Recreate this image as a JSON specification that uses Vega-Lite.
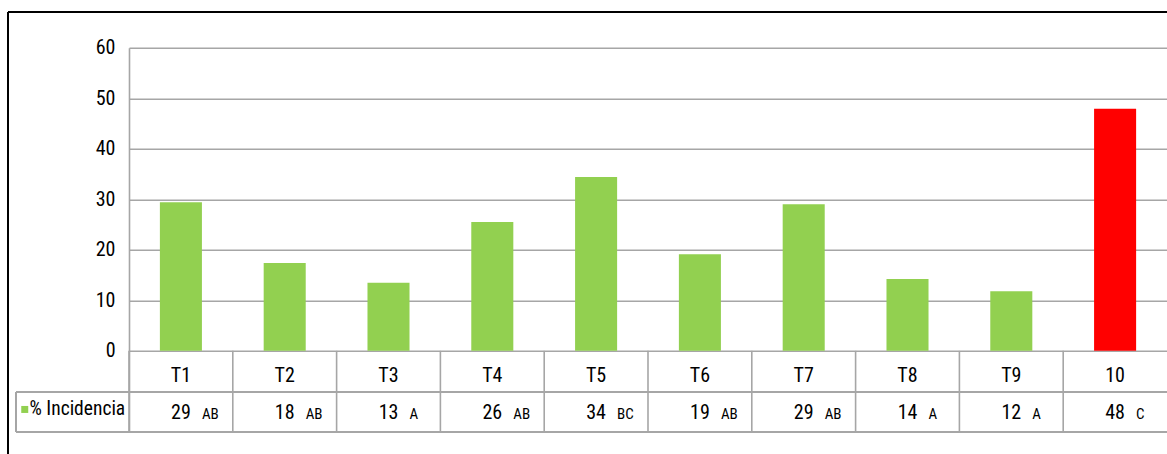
{
  "$schema": "https://vega.github.io/schema/vega-lite/v6.json",
  "width": 1038,
  "height": 384,
  "autosize": "none",
  "padding": {"left": 129, "top": 47.7, "right": 0, "bottom": 22.3},
  "background": "white",
  "config": {
    "view": {"stroke": null},
    "font": "'Roboto Condensed', 'Liberation Sans Narrow', 'DejaVu Sans Condensed', sans-serif"
  },
  "data": {
    "values": [
      {"cat": "T1", "value": 29.4, "label": "29", "letter": "AB", "serie": "% Incidencia"},
      {"cat": "T2", "value": 17.4, "label": "18", "letter": "AB", "serie": "% Incidencia"},
      {"cat": "T3", "value": 13.5, "label": "13", "letter": "A", "serie": "% Incidencia"},
      {"cat": "T4", "value": 25.5, "label": "26", "letter": "AB", "serie": "% Incidencia"},
      {"cat": "T5", "value": 34.4, "label": "34", "letter": "BC", "serie": "% Incidencia"},
      {"cat": "T6", "value": 19.1, "label": "19", "letter": "AB", "serie": "% Incidencia"},
      {"cat": "T7", "value": 29.0, "label": "29", "letter": "AB", "serie": "% Incidencia"},
      {"cat": "T8", "value": 14.2, "label": "14", "letter": "A", "serie": "% Incidencia"},
      {"cat": "T9", "value": 11.8, "label": "12", "letter": "A", "serie": "% Incidencia"},
      {"cat": "10", "value": 47.9, "label": "48", "letter": "C", "serie": "% Incidencia"}
    ]
  },
  "encoding": {
    "x": {"field": "cat", "type": "nominal", "sort": null, "scale": {"paddingInner": 0, "paddingOuter": 0}, "axis": null}
  },
  "layer": [
    {
      "mark": {"type": "bar", "width": {"band": 0.405}},
      "encoding": {
        "y": {
          "field": "value", "type": "quantitative",
          "scale": {"domain": [-16, 60], "nice": false, "zero": false},
          "axis": {
            "values": [0, 10, 20, 30, 40, 50, 60],
            "grid": true, "gridColor": "#a6a6a6", "gridWidth": 1.6,
            "domain": true, "domainColor": "#a6a6a6", "domainWidth": 1.6,
            "ticks": false, "labelPadding": 14, "labelFontSize": 20,
            "labelColor": "#000000", "title": null
          }
        },
        "y2": {"datum": 0},
        "color": {
          "field": "serie", "type": "nominal",
          "scale": {"domain": ["% Incidencia"], "range": ["#92D050"]},
          "condition": {"test": "datum.cat === '10'", "value": "#FF0000"},
          "legend": {
            "title": null, "orient": "none", "legendX": -114, "legendY": 352,
            "symbolType": "square", "symbolSize": 49, "symbolStrokeWidth": 0,
            "labelFontSize": 19.5, "labelColor": "#000000", "labelOffset": -5,
            "padding": 0, "labelLimit": 0
          }
        }
      }
    },
    {
      "mark": {"type": "rule", "color": "#a6a6a6", "strokeWidth": 1.6},
      "encoding": {
        "x": {"field": "cat", "type": "nominal", "sort": null, "bandPosition": 0},
        "y": {"datum": 0},
        "y2": {"datum": -16}
      }
    },
    {
      "mark": {"type": "rule", "color": "#a6a6a6", "strokeWidth": 1.6, "xOffset": -113, "x2Offset": 110},
      "encoding": {
        "x": {"datum": "T1", "bandPosition": 0},
        "x2": {"datum": "10"},
        "y": {"datum": -8.2}
      }
    },
    {
      "mark": {"type": "rule", "color": "#a6a6a6", "strokeWidth": 1.6, "xOffset": -113},
      "encoding": {
        "x": {"datum": "T1", "bandPosition": 0},
        "y": {"datum": -8.2},
        "y2": {"datum": -16}
      }
    },
    {
      "mark": {"type": "rule", "color": "#a6a6a6", "strokeWidth": 1.6, "xOffset": -113, "x2Offset": 110},
      "encoding": {
        "x": {"datum": "T1", "bandPosition": 0},
        "x2": {"datum": "10"},
        "y": {"datum": -16}
      }
    },
    {
      "mark": {"type": "rule", "color": "#000000", "strokeWidth": 2, "xOffset": -121, "x2Offset": 110, "yOffset": -35.7},
      "encoding": {
        "x": {"datum": "T1", "bandPosition": 0},
        "x2": {"datum": "10"},
        "y": {"datum": 60}
      }
    },
    {
      "mark": {"type": "rule", "color": "#000000", "strokeWidth": 2, "xOffset": -121, "yOffset": -35.7, "y2Offset": 30},
      "encoding": {
        "x": {"datum": "T1", "bandPosition": 0},
        "y": {"datum": 60},
        "y2": {"datum": -16}
      }
    },
    {
      "mark": {"type": "text", "fontSize": 20, "baseline": "alphabetic", "color": "#000000"},
      "encoding": {
        "y": {"datum": -6.1},
        "text": {"field": "cat"}
      }
    },
    {
      "mark": {"type": "text", "fontSize": 20, "baseline": "alphabetic", "color": "#000000"},
      "encoding": {
        "y": {"datum": -13.5},
        "text": {"field": "label"}
      }
    },
    {
      "mark": {"type": "text", "fontSize": 15, "baseline": "alphabetic", "align": "left", "dx": 21, "color": "#000000"},
      "encoding": {
        "y": {"datum": -13.5},
        "text": {"field": "letter"}
      }
    }
  ]
}
